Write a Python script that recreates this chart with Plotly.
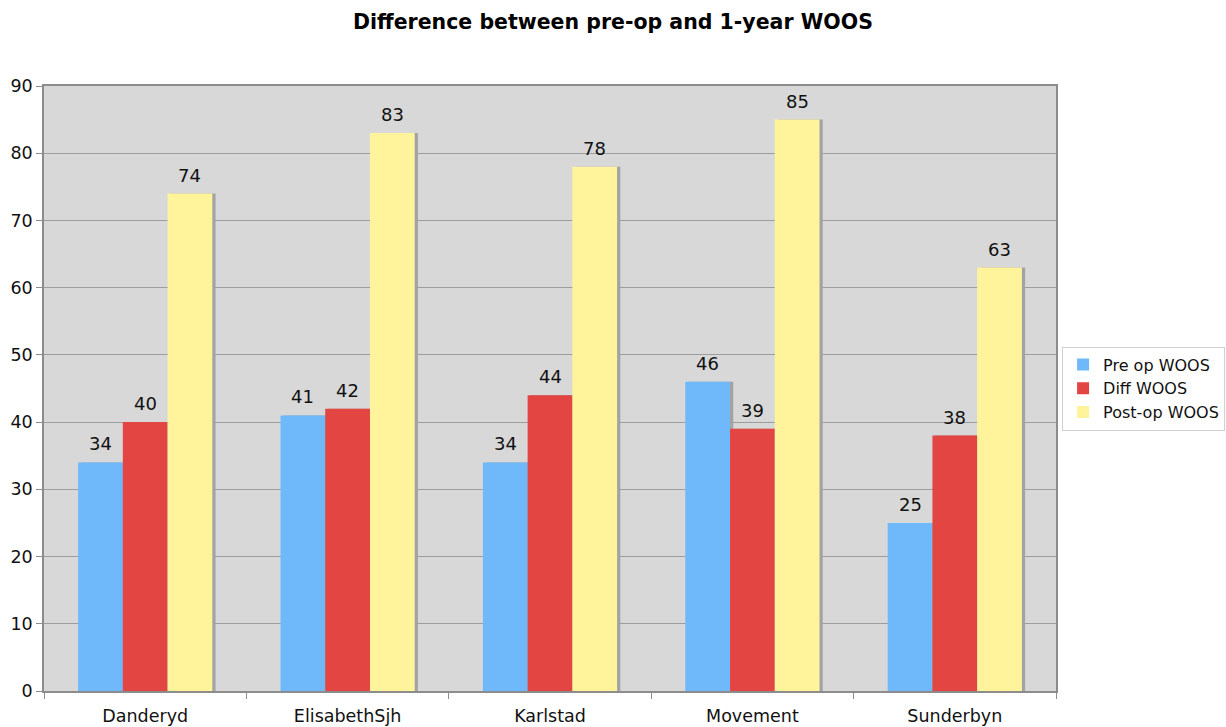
import plotly.graph_objects as go

categories = ["Danderyd", "ElisabethSjh", "Karlstad", "Movement", "Sunderbyn"]
pre_op = [34, 41, 34, 46, 25]
diff = [40, 42, 44, 39, 38]
post_op = [74, 83, 78, 85, 63]
series_names = ["Pre op WOOS", "Diff WOOS", "Post-op WOOS"]
series_values = [pre_op, diff, post_op]
colors = ["#6fb9fb", "#e34543", "#fff49b"]

bar_w = 0.221
offsets = [-1.5 * bar_w, -0.5 * bar_w, 0.5 * bar_w]
shadow_shift = 0.016
FONT = "DejaVu Sans"

fig = go.Figure()
# shadows
for vals, off in zip(series_values, offsets):
    fig.add_trace(go.Bar(
        x=categories, y=vals, width=bar_w, offset=off + shadow_shift,
        marker=dict(color="#a3a3a3", line=dict(width=0)),
        showlegend=False, hoverinfo="skip"))
for name, vals, off, col in zip(series_names, series_values, offsets, colors):
    fig.add_trace(go.Bar(
        x=categories, y=vals, name=name, width=bar_w, offset=off,
        marker=dict(color=col, line=dict(width=0))))
    for i, v in enumerate(vals):
        fig.add_annotation(x=i + off + bar_w / 2, y=v, text=str(v),
                           showarrow=False, yanchor="bottom", yshift=6,
                           font=dict(size=18, color="#111111", family=FONT))

fig.update_layout(
    width=1226, height=727,
    barmode="overlay",
    paper_bgcolor="white", plot_bgcolor="#d8d8d8",
    margin=dict(l=44, r=170, t=86, b=36, autoexpand=False),
    font=dict(family=FONT, size=17.5, color="#111111"),
    title=dict(text="<b>Difference between pre-op and 1-year WOOS</b>",
               x=0.5, xanchor="center", y=0.97, yanchor="middle",
               font=dict(size=20.5, color="black", family=FONT)),
    legend=dict(x=1.006, xanchor="left", y=0.5, yanchor="middle",
                bordercolor="#d0d0d0", borderwidth=1,
                font=dict(size=16), tracegroupgap=0, itemwidth=30),
    showlegend=True,
)
fig.update_xaxes(showgrid=False, showline=True, linecolor="#8c8c8c", linewidth=1.5,
                 mirror=True, ticks="outside", tickson="boundaries", ticklen=6,
                 tickcolor="#8c8c8c", tickfont=dict(size=17.5), ticklabelstandoff=8)
fig.update_yaxes(range=[0, 90], dtick=10, showgrid=True, gridcolor="#9d9d9d",
                 gridwidth=1, showline=True, linecolor="#8c8c8c", linewidth=1.5,
                 mirror=True, ticks="outside", ticklen=6, tickcolor="#8c8c8c",
                 tickfont=dict(size=17.5), zeroline=False)

fig.write_html("out.html")
